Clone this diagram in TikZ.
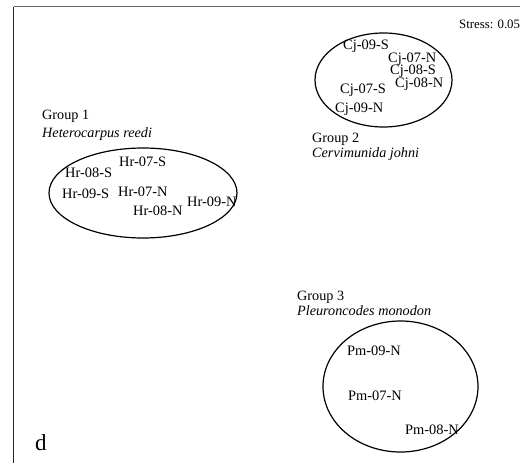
\documentclass[tikz,border=0pt]{standalone}
\usepackage{fontspec}
\setmainfont{Liberation Serif}
\usetikzlibrary{shapes.geometric}
\begin{document}
\begin{tikzpicture}[x=1pt,y=-1pt,
  lbl/.style={anchor=base west,inner sep=0pt,font=\fontsize{14.4}{16}\selectfont},
  grp/.style={anchor=base west,inner sep=0pt,font=\fontsize{14.2}{16}\selectfont},
  sp/.style={anchor=base west,inner sep=0pt,font=\fontsize{14.2}{16}\selectfont\itshape},
  ring/.style={draw,ellipse,line width=1.2pt,inner sep=0pt}]
\useasboundingbox (0,0) rectangle (520,463);
\fill[white] (0,0) rectangle (520,463);
% frame
\coordinate (fc) at (13.5,6.5);
\coordinate (fr) at (521,6.5);
\coordinate (fb) at (13.5,464);
\draw[line width=1.8pt,black!60] (fc) -- (fr);
\draw[line width=1.8pt,black!85] (fc) -- (fb);
% ellipses
\node[ring,minimum width=188pt,minimum height=90pt] (e1) at (143,193) {};
\node[ring,minimum width=137pt,minimum height=94pt] (e2) at (383.5,80) {};
\node[ring,minimum width=155pt,minimum height=131pt] (e3) at (400.5,386.5) {};
% group 1
\node[grp] (g1) at (42,119) {Group 1};
\node[sp] (s1) at (42,137.5) {Heterocarpus reedi};
\node[lbl] (h1) at (119,166.5) {Hr-07-S};
\node[lbl] (h2) at (65,177.5) {Hr-08-S};
\node[lbl] (h3) at (62,198.5) {Hr-09-S};
\node[lbl] (h4) at (118,196.5) {Hr-07-N};
\node[lbl] (h5) at (133,215.5) {Hr-08-N};
\node[lbl] (h6) at (187,206.5) {Hr-09-N};
% group 2
\node[grp] (g2) at (312,142.5) {Group 2};
\node[sp] (s2) at (312,157) {Cervimunida johni};
\node[lbl] (c1) at (343,49.5) {Cj-09-S};
\node[lbl] (c2) at (388,62.5) {Cj-07-N};
\node[lbl] (c3) at (390,74.5) {Cj-08-S};
\node[lbl] (c4) at (395,87.5) {Cj-08-N};
\node[lbl] (c5) at (340,93.5) {Cj-07-S};
\node[lbl] (c6) at (335,112.5) {Cj-09-N};
% group 3
\node[grp] (g3) at (297,300) {Group 3};
\node[sp] (s3) at (297,315) {Pleuroncodes monodon};
\node[lbl] (p1) at (347,355.5) {Pm-09-N};
\node[lbl] (p2) at (348,400.5) {Pm-07-N};
\node[lbl] (p3) at (405,434.5) {Pm-08-N};
% misc
\node[anchor=base west,inner sep=0pt,font=\fontsize{12.8}{14}\selectfont] (st) at (459,28) {Stress: 0.05};
\node[anchor=base west,inner sep=0pt,font=\fontsize{23}{26}\selectfont] (d) at (35,450) {d};
\end{tikzpicture}
\end{document}
